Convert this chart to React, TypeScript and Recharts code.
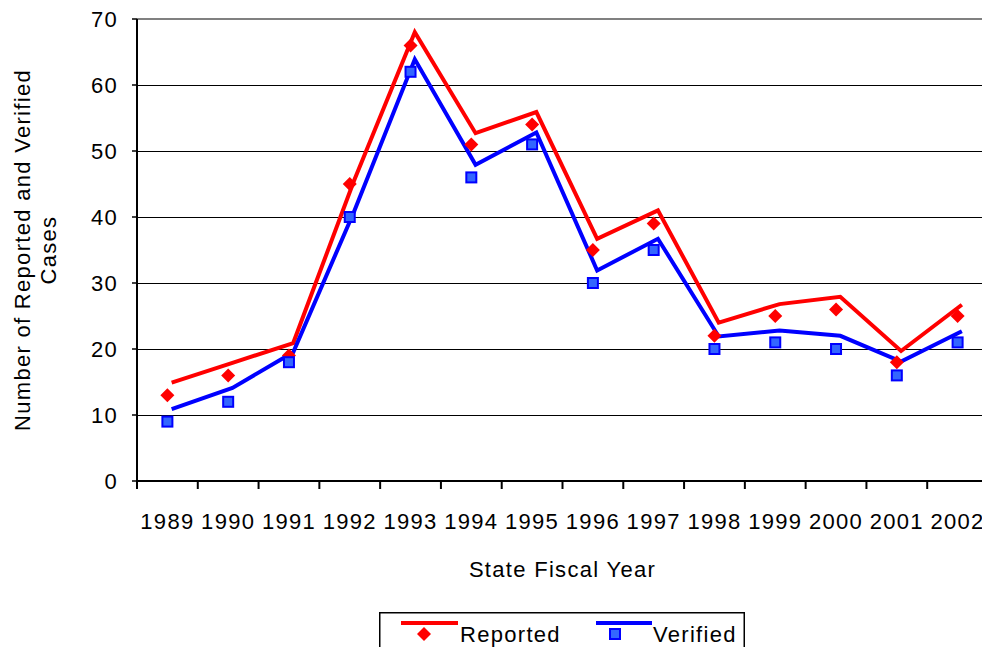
import React from "react";
import {
  ComposedChart,
  Line,
  XAxis,
  YAxis,
  CartesianGrid,
  ReferenceLine,
  Legend,
} from "recharts";

const years = [
  "1989", "1990", "1991", "1992", "1993", "1994", "1995",
  "1996", "1997", "1998", "1999", "2000", "2001", "2002",
];
// marker values
const reportedCases = [13, 16, 19, 45, 66, 51, 54, 35, 39, 22, 25, 26, 18, 25];
const verifiedCases = [9, 12, 18, 40, 62, 46, 51, 30, 35, 20, 21, 20, 16, 21];
// line values (drawn slightly right of the markers)
const reportedLine = [14.9, 17.9, 20.9, 45.5, 68.0, 52.7, 55.9, 36.7, 41.0, 24.0, 26.8, 27.9, 19.7, 26.7];
const verifiedLine = [10.9, 14.1, 19.5, 40.8, 63.9, 47.9, 52.8, 31.9, 36.7, 21.9, 22.8, 22.0, 18.1, 22.7];
const yTicks = [0, 10, 20, 30, 40, 50, 60, 70];
const boundaryTicks = years.map((_, i) => i).concat(years.length);
const labelTicks = years.map((_, i) => i + 0.5);

const FONT = "'Liberation Sans', Arial, sans-serif";
const RED = "#FF0000";
const BLUE = "#0000FF";
const SQUARE_FILL = "#3366FF";

const data = years.map((year, i) => ({
  year,
  pos: i + 0.5,
  linePos: i + 0.57,
  reported: reportedCases[i],
  verified: verifiedCases[i],
  reportedLine: reportedLine[i],
  verifiedLine: verifiedLine[i],
}));

const Diamond = (props: any) => {
  const { cx, cy, index } = props;
  if (cx == null || cy == null) return <g key={"d" + index} />;
  const r = 7;
  return (
    <path
      key={"d" + index}
      d={`M${cx},${cy - r}L${cx + r},${cy}L${cx},${cy + r}L${cx - r},${cy}Z`}
      fill={RED}
    />
  );
};

const Square = (props: any) => {
  const { cx, cy, index } = props;
  if (cx == null || cy == null) return <g key={"s" + index} />;
  return (
    <rect
      key={"s" + index}
      x={cx - 5}
      y={cy - 5}
      width={10}
      height={10}
      fill={SQUARE_FILL}
      stroke={BLUE}
      strokeWidth={2}
    />
  );
};

const YTitle = (props: any) => {
  const vb = props.viewBox || { x: 0, y: 19, width: 137, height: 462 };
  const cy = vb.y + vb.height / 2;
  const lines = [
    { x: 22, t: "Number of Reported and Verified" },
    { x: 48, t: "Cases" },
  ];
  return (
    <g>
      {lines.map((l) => (
        <text
          key={l.t}
          x={l.x}
          y={cy}
          transform={`rotate(-90, ${l.x}, ${cy})`}
          textAnchor="middle"
          dominantBaseline="central"
          fontSize={22}
          fontFamily={FONT}
          fill="#000"
        >
          {l.t}
        </text>
      ))}
    </g>
  );
};

const ChartLegend = () => (
  <svg width={366} height={48} style={{ display: "block", fontFamily: FONT }}>
    <rect x={0.75} y={0.75} width={364.5} height={46.5} fill="#fff" stroke="#000" strokeWidth={1.5} />
    <line x1={22} y1={11} x2={79} y2={11} stroke={RED} strokeWidth={4} />
    <Diamond cx={45} cy={22} index={0} />
    <text x={81} y={30} fontSize={22} fill="#000">Reported</text>
    <line x1={217} y1={11} x2={273} y2={11} stroke={BLUE} strokeWidth={4} />
    <Square cx={236} cy={22} index={0} />
    <text x={274} y={30} fontSize={22} fill="#000">Verified</text>
  </svg>
);

export default function App() {
  return (
    <div
      style={{
        margin: -8,
        width: 990,
        height: 655,
        background: "#fff",
        fontFamily: FONT,
        letterSpacing: "1.3px",
      }}
    >
      <ComposedChart
        width={990}
        height={655}
        data={data}
        margin={{ top: 19, right: 2, bottom: 66, left: 0 }}
        style={{ fontFamily: FONT }}
      >
        <CartesianGrid
          horizontal
          vertical={false}
          stroke="#000"
          strokeWidth={1}
          shapeRendering="crispEdges"
        />
        <XAxis
          xAxisId="b"
          type="number"
          dataKey="pos"
          domain={[0, years.length]}
          ticks={labelTicks}
          tickFormatter={(v: number) => years[Math.round(v - 0.5)]}
          height={100}
          tickSize={0}
          tickMargin={24}
          axisLine={false}
          tickLine={false}
          interval={0}
          tick={{ fontSize: 22, fill: "#000", fontFamily: FONT }}
          label={{
            value: "State Fiscal Year",
            position: "insideBottom",
            offset: 12,
            fontSize: 22,
            fill: "#000",
            fontFamily: FONT,
          }}
        />
        <XAxis
          xAxisId="a"
          type="number"
          dataKey="pos"
          domain={[0, years.length]}
          ticks={boundaryTicks}
          tickFormatter={() => ""}
          interval={0}
          height={8}
          tickSize={8}
          axisLine={{ stroke: "#000", strokeWidth: 2 }}
          tickLine={{ stroke: "#000", strokeWidth: 2 }}
        />
        <XAxis
          xAxisId="l"
          type="number"
          dataKey="linePos"
          domain={[0, years.length]}
          hide
        />
        <YAxis
          domain={[0, 70]}
          ticks={yTicks}
          width={137}
          tickSize={5}
          tickMargin={14}
          axisLine={{ stroke: "#000", strokeWidth: 2 }}
          tickLine={{ stroke: "#000", strokeWidth: 1.5 }}
          tick={{ fontSize: 22, fill: "#000", fontFamily: FONT }}
          label={<YTitle />}
        />
        <ReferenceLine y={70} xAxisId="a" stroke="#808080" strokeWidth={2} />
        <ReferenceLine x={years.length} xAxisId="a" stroke="#808080" strokeWidth={2} />
        <Line
          xAxisId="l"
          dataKey="reportedLine"
          type="linear"
          stroke={RED}
          strokeWidth={4}
          dot={false}
          activeDot={false}
          isAnimationActive={false}
          legendType="none"
        />
        <Line
          xAxisId="l"
          dataKey="verifiedLine"
          type="linear"
          stroke={BLUE}
          strokeWidth={4}
          dot={false}
          activeDot={false}
          isAnimationActive={false}
          legendType="none"
        />
        <Line
          xAxisId="a"
          dataKey="reported"
          stroke="none"
          dot={Diamond}
          activeDot={false}
          isAnimationActive={false}
          legendType="none"
        />
        <Line
          xAxisId="a"
          dataKey="verified"
          stroke="none"
          dot={Square}
          activeDot={false}
          isAnimationActive={false}
          legendType="none"
        />
        <Legend
          layout="vertical"
          align="center"
          verticalAlign="middle"
          content={<ChartLegend />}
          wrapperStyle={{ position: "absolute", left: 379, top: 612, width: 366, height: 48 }}
        />
      </ComposedChart>
    </div>
  );
}
